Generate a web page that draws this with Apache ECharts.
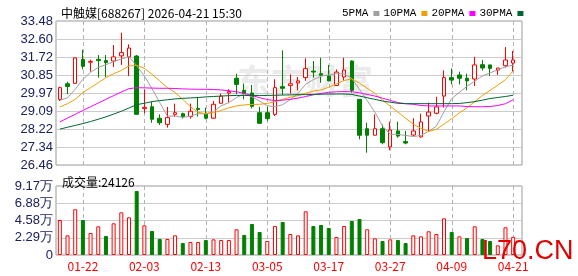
<!DOCTYPE html>
<html>
<head>
<meta charset="utf-8">
<script src="https://cdn.jsdelivr.net/npm/echarts@6/dist/echarts.min.js"></script>
<style>html,body{margin:0;padding:0;background:#fff;}#c{width:578px;height:276px;}</style>
</head>
<body>
<div id="c"></div>
<script>
var dates = ['01-19','01-20','01-21','01-22','01-23','01-26','01-27','01-28','01-29','01-30',
 '02-02','02-03','02-04','02-05','02-06','02-09','02-10','02-11','02-12','02-13',
 '02-24','02-25','02-26','02-27','03-02','03-03','03-04','03-05','03-06','03-09',
 '03-10','03-11','03-12','03-13','03-16','03-17','03-18','03-19','03-20','03-23',
 '03-24','03-25','03-26','03-27','03-30','03-31','04-01','04-02','04-03','04-07',
 '04-08','04-09','04-10','04-13','04-14','04-15','04-16','04-17','04-20','04-21'];
var labelDates = ['01-22','02-03','02-13','03-05','03-17','03-27','04-09','04-21'];
// [open, close, low, high]
var ohlc = [
 [29.66,30.23,29.58,30.28],[30.42,30.29,29.91,30.52],[30.44,31.68,30.42,31.70],[31.60,31.27,31.12,32.08],
 [31.47,31.51,31.01,31.60],[31.61,31.55,30.72,31.82],[31.55,31.45,30.75,31.82],[31.53,31.73,31.24,32.31],
 [31.78,31.94,31.34,32.91],[31.73,32.16,30.80,32.34],[31.77,28.93,28.93,31.82],[29.21,29.27,28.98,30.15],
 [29.30,28.69,28.52,29.53],[28.74,28.52,28.41,28.93],[28.44,28.77,28.28,29.29],[28.93,29.01,28.80,29.45],
 [28.96,28.82,28.72,29.01],[28.82,29.08,28.72,29.45],[29.22,29.17,28.82,29.74],[28.93,28.74,28.69,29.25],
 [28.74,29.42,28.72,29.58],[29.47,29.82,29.45,29.94],[29.97,30.04,29.50,30.15],[30.69,30.39,29.91,30.91],
 [30.10,29.94,29.66,30.43],[29.97,29.32,29.22,30.36],[29.01,28.49,28.49,29.29],[29.01,28.72,28.61,29.29],
 [28.93,30.23,28.85,30.64],[30.28,30.20,29.87,32.05],[30.34,30.42,29.94,30.88],[30.46,30.56,30.10,30.75],
 [30.72,31.16,30.56,31.66],[31.04,30.99,30.72,31.53],[30.91,30.83,30.47,31.69],[30.80,30.56,30.56,31.34],
 [30.34,30.99,30.31,31.12],[30.75,31.09,30.56,31.69],[31.53,30.10,29.99,31.56],[29.66,27.91,27.71,29.66],
 [28.23,27.91,27.06,28.52],[27.91,28.23,27.91,28.93],[28.23,27.55,27.47,28.44],[27.34,28.17,27.18,28.57],
 [28.12,27.87,27.79,28.57],[27.60,27.53,27.47,28.12],[27.92,28.12,27.87,28.74],[27.83,28.56,27.79,28.96],
 [28.85,29.04,28.12,29.50],[28.98,29.29,28.93,29.79],[29.82,30.72,29.26,31.07],[30.72,30.60,30.39,31.17],
 [30.85,30.69,30.39,31.01],[30.69,30.56,30.10,30.91],[30.65,31.34,30.31,31.73],[31.35,31.19,31.07,31.58],
 [31.34,31.17,30.80,31.34],[31.09,31.19,30.85,31.19],[31.30,31.58,31.21,32.21],[31.43,31.58,30.99,32.02]
];
var ma5 = [29.61,29.74,30.15,30.64,30.98,31.22,31.35,31.50,31.63,31.74,31.30,30.80,30.18,29.50,28.84,28.85,28.78,28.84,28.96,28.96,29.06,29.35,29.50,29.75,29.92,29.78,29.58,29.35,29.30,29.40,29.65,29.95,30.40,30.62,30.79,30.85,30.92,30.90,30.68,30.15,29.60,29.04,28.36,27.96,27.95,27.90,27.85,27.90,28.10,28.35,29.05,29.70,30.00,30.30,30.55,30.80,30.95,31.10,31.25,31.33];
var ma10 = [29.29,29.45,29.66,29.99,30.23,30.47,30.72,30.91,31.07,31.29,31.32,31.17,30.88,30.56,30.23,29.99,29.66,29.30,29.03,28.96,29.01,29.12,29.25,29.34,29.39,29.41,29.42,29.46,29.55,29.66,29.76,29.84,29.96,30.06,30.12,30.25,30.42,30.58,30.66,30.45,30.20,29.96,29.62,29.33,29.04,28.74,28.45,28.25,28.09,28.20,28.45,28.72,29.00,29.25,29.55,29.85,30.10,30.35,30.62,31.05];
var ma20 = [28.56,28.75,28.93,29.12,29.30,29.48,29.66,29.84,30.02,30.18,30.23,30.22,30.21,30.20,30.20,30.19,30.17,30.16,30.15,30.15,30.14,30.12,30.08,30.03,29.95,29.85,29.74,29.65,29.60,29.62,29.66,29.72,29.80,29.88,29.95,30.00,30.03,30.04,30.03,29.98,29.90,29.82,29.72,29.61,29.50,29.45,29.42,29.36,29.34,29.34,29.34,29.34,29.34,29.31,29.30,29.30,29.31,29.36,29.45,29.64];
var ma30 = [28.21,28.30,28.39,28.48,28.58,28.69,28.81,28.94,29.08,29.24,29.40,29.47,29.55,29.60,29.64,29.68,29.71,29.73,29.75,29.78,29.80,29.82,29.84,29.85,29.85,29.85,29.85,29.85,29.86,29.87,29.88,29.89,29.89,29.90,29.91,29.92,29.92,29.92,29.90,29.82,29.74,29.66,29.58,29.52,29.47,29.45,29.45,29.45,29.45,29.45,29.45,29.45,29.46,29.50,29.55,29.62,29.70,29.75,29.80,29.86];
// volume in 万 (10k shares)
var volume = [4.65,2.61,6.07,4.65,2.92,3.81,2.52,4.21,5.67,5.01,8.50,3.94,3.19,2.13,2.13,2.61,1.59,1.73,1.73,1.99,
 2.08,1.99,1.99,3.41,2.66,4.12,3.06,1.86,3.85,4.39,2.79,2.61,5.80,3.85,3.99,3.59,2.39,3.85,4.52,4.78,
 3.41,2.21,1.86,2.08,1.99,1.59,2.61,2.48,3.15,2.79,4.87,3.06,2.48,2.26,3.81,2.13,1.86,1.28,3.68,2.41];
// 1 = up day (red hollow), -1 = down day (green)
var volDir = [1,1,1,-1,1,1,-1,1,1,1,-1,1,-1,-1,1,1,-1,1,1,-1,
 1,1,1,1,-1,-1,-1,1,1,-1,1,1,1,-1,-1,-1,1,1,-1,-1,
 1,1,-1,1,-1,-1,1,1,1,1,1,-1,1,-1,1,-1,-1,1,1,1];
var priceTicks = ['26.46','27.34','28.22','29.09','29.97','30.85','31.72','32.60','33.48'];
var volTicks = ['0','2.29万','4.58万','6.88万','9.17万'];
var maNames = ['5PMA','10PMA','20PMA','30PMA'];
var maColors = ['#a0a0a0','#f0a000','#ff00ff','#006633'];
var titleText = '中触媒[688267] 2026-04-21 15:30';
var volText = '成交量:24126';

var chart = echarts.init(document.getElementById('c'));
var gridL = 56, frameW = 466, dataW = 461;

// vertical dashed guide lines at the labelled dates, positioned by the category axis
function vlineSeries(xi, yi, yMid) {
  return {
    type: 'custom', xAxisIndex: xi, yAxisIndex: yi, z: 1, silent: true, clip: false,
    encode: {x: 0, y: 1},
    data: labelDates.map(function (d) { return [d, yMid]; }),
    renderItem: function (params, api) {
      var cs = params.coordSys;
      var x = Math.round(api.coord([api.value(0), api.value(1)])[0]) + 0.5;
      return {type: 'line', shape: {x1: x, y1: cs.y, x2: x, y2: cs.y + cs.height},
              style: {stroke: '#b4b4b4', lineWidth: 1, lineDash: [4, 3]}};
    }
  };
}
var maSeries = [ma5, ma10, ma20, ma30].map(function (arr, i) {
  return {
    name: maNames[i], type: 'line', xAxisIndex: 1, yAxisIndex: 1, data: arr,
    symbol: 'none', showSymbol: false, z: 3,
    lineStyle: {width: 1, color: maColors[i]}, itemStyle: {color: maColors[i]}
  };
});
var option = {
  animation: false,
  backgroundColor: '#ffffff',
  title: [
    {text: titleText, left: 56, top: 2, textStyle: {fontSize: 12, fontWeight: 'normal', color: '#000', fontFamily: 'Noto Sans CJK SC'}},
    {text: volText, left: 57, top: 171, textStyle: {fontSize: 12, fontWeight: 'normal', color: '#000', fontFamily: 'Noto Sans CJK SC'}}
  ],
  legend: {
    data: maNames, left: 337, top: 3, align: 'right', itemGap: 4, itemWidth: 6, itemHeight: 5,
    icon: 'rect', selectedMode: false,
    textStyle: {fontFamily: 'Liberation Mono', fontSize: 11, color: '#000'}
  },
  graphic: [
    {type: 'text', left: 237, top: 64, z: 0, silent: true,
     style: {text: '东方财富', fill: '#ebebeb', font: 'bold 34px "Noto Sans CJK SC"'}},
    {type: 'text', left: 482, top: 238, z: 100, silent: true,
     style: {text: 'L70.CN', fill: '#e00000', font: '27px "Liberation Sans"'}}
  ],
  grid: [
    {left: gridL, top: 21, width: frameW, height: 144, show: true, borderColor: '#999', borderWidth: 1, backgroundColor: 'transparent'},
    {left: gridL, top: 21, width: dataW, height: 144},
    {left: gridL, top: 186, width: frameW, height: 69, show: true, borderColor: '#999', borderWidth: 1, backgroundColor: 'transparent'},
    {left: gridL, top: 186, width: dataW, height: 69}
  ],
  xAxis: [
    {gridIndex: 0, type: 'value', min: 0, max: 1, show: false},
    {gridIndex: 1, type: 'category', data: dates, show: false, boundaryGap: true},
    {gridIndex: 2, type: 'value', min: 0, max: 1, show: false},
    {gridIndex: 3, type: 'category', data: dates, boundaryGap: true,
     axisLine: {show: false}, axisTick: {show: false}, splitLine: {show: false},
     axisLabel: {interval: function (i) { return i % 8 === 3; }, color: '#ff0000', fontSize: 12,
       fontFamily: 'Noto Sans CJK SC', margin: 5}}
  ],
  yAxis: [
    {gridIndex: 0, type: 'value', min: 0, max: 8, interval: 1,
     axisLine: {show: false}, axisTick: {show: false},
     splitLine: {show: true, lineStyle: {color: '#cccccc', width: 1}},
     axisLabel: {formatter: function (v) { return priceTicks[v]; }, color: '#1a2060', fontSize: 13,
       fontFamily: 'Liberation Sans', margin: 3}},
    {gridIndex: 1, type: 'value', min: 26.46, max: 33.48, show: false, splitLine: {show: false}},
    {gridIndex: 2, type: 'value', min: 0, max: 4, interval: 1,
     axisLine: {show: false}, axisTick: {show: false},
     splitLine: {show: true, lineStyle: {color: '#cccccc', width: 1}},
     axisLabel: {formatter: function (v) { return volTicks[v]; }, color: '#1a2060', fontSize: 13,
       fontFamily: 'Liberation Sans', margin: 3}},
    {gridIndex: 3, type: 'value', min: 0, max: 9.17, show: false, splitLine: {show: false}}
  ],
  series: [
    vlineSeries(1, 1, 30),
    vlineSeries(3, 3, 1),
    {name: 'K', type: 'candlestick', xAxisIndex: 1, yAxisIndex: 1, data: ohlc, barWidth: 4, z: 2,
     itemStyle: {color: '#ffffff', color0: '#008000', borderColor: '#ff0000', borderColor0: '#008000', borderWidth: 1}}
  ].concat(maSeries).concat([
    {name: 'VOL', type: 'bar', xAxisIndex: 3, yAxisIndex: 3, barWidth: 4, z: 2,
     data: volume.map(function (v, i) {
       var up = volDir[i] > 0;
       return {value: v, itemStyle: {color: up ? '#ffffff' : '#008000', borderColor: up ? '#ff0000' : '#008000', borderWidth: 1}};
     })}
  ])
};
chart.setOption(option);
</script>
</body>
</html>
